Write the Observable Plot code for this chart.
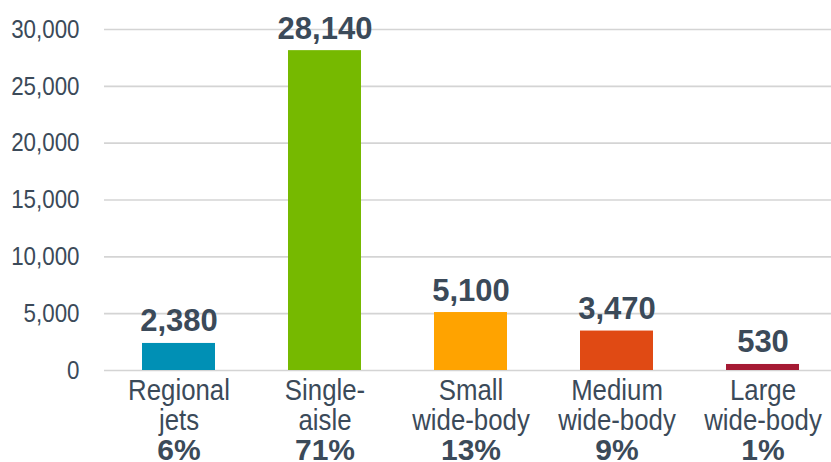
<!DOCTYPE html>
<html>
<head>
<meta charset="utf-8">
<script src="https://cdn.jsdelivr.net/npm/d3@7"></script>
<script src="https://cdn.jsdelivr.net/npm/@observablehq/plot@0.6"></script>
<style>
  body { margin: 0; background: #fff; }
  #chart svg { display: block; }
</style>
</head>
<body>
<div id="chart"></div>
<script>
// Aircraft deliveries by segment
const categories = ["Regional jets", "Single-aisle", "Small wide-body", "Medium wide-body", "Large wide-body"];
const nameLines = ["Regional\njets", "Single-\naisle", "Small\nwide-body", "Medium\nwide-body", "Large\nwide-body"];
const deliveries = [2380, 28140, 5100, 3470, 530];
const shares = ["6%", "71%", "13%", "9%", "1%"];
const barColors = ["#0090b5", "#76b900", "#ffa300", "#e04a14", "#a51a33"];
const yTicks = [0, 5000, 10000, 15000, 20000, 25000, 30000];

const rows = categories.map((c, i) => ({
  category: c,
  name: nameLines[i],
  value: deliveries[i],
  share: shares[i]
}));

const ink = "#3b4a59";
const sans = "'Liberation Sans', Arial, sans-serif";

const chart = Plot.plot({
  width: 831,
  height: 462,
  marginLeft: 104,
  marginRight: -5,
  marginTop: 29,
  marginBottom: 92,
  style: { fontFamily: sans, color: ink, background: "#fff", overflow: "visible" },
  x: { domain: categories, paddingInner: 0.5, paddingOuter: 0.25, axis: null },
  y: { domain: [0, 30000] },
  color: { domain: categories, range: barColors },
  marks: [
    Plot.gridY(yTicks, { stroke: "#d4d4d4", strokeOpacity: 1, strokeWidth: 1.6 }),
    Plot.axisY(yTicks, {
      className: "narrow",
      tickSize: 0,
      tickPadding: 25,
      tickFormat: d3.format(","),
      fontSize: 26,
      fill: ink,
      label: null
    }),
    Plot.barY(rows, { x: "category", y: "value", fill: "category" }),
    Plot.text(rows, {
      x: "category", y: "value",
      text: d => d3.format(",")(d.value),
      lineAnchor: "bottom", dy: -12,
      fontSize: 31, fontWeight: "bold", fill: ink
    }),
    Plot.text(rows, {
      className: "narrow",
      x: "category", y: () => 0,
      text: "name",
      lineAnchor: "top", lineHeight: 1, dy: 8,
      fontSize: 30, fill: ink
    }),
    Plot.text(rows, {
      x: "category", y: () => 0,
      text: "share",
      lineAnchor: "top", dy: 68,
      fontSize: 30, fontWeight: "bold", fill: ink
    })
  ]
});

// Condensed lettering for category names and tick labels
d3.select(chart).selectAll(".narrow text").each(function () {
  const t = this.getAttribute("transform") || "";
  this.setAttribute("transform", (t + " scale(0.86,1)").trim());
});

document.getElementById("chart").appendChild(chart);
</script>
</body>
</html>
